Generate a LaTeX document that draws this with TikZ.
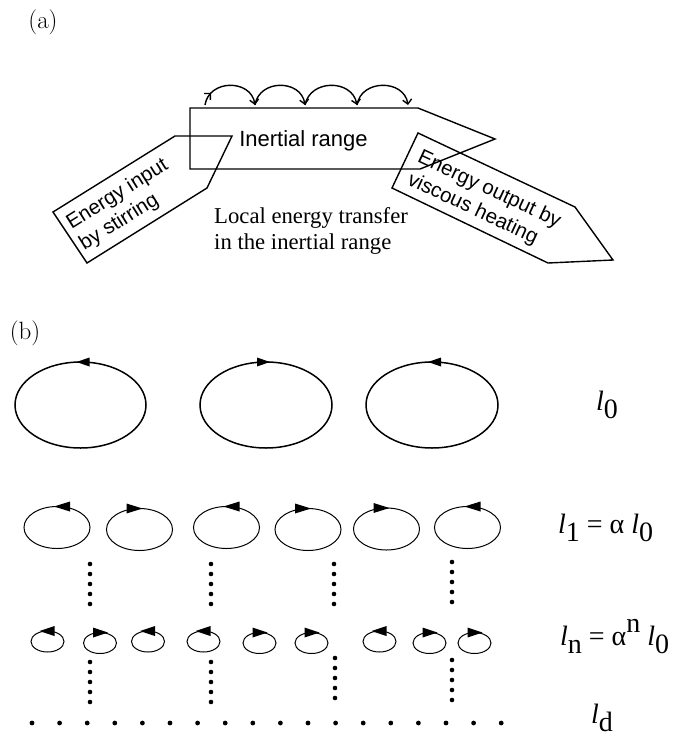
\documentclass[tikz,border=0pt]{standalone}
\usepackage{fontspec}
\newfontfamily\arialf{Liberation Sans}
\newfontfamily\timesf{Liberation Serif}
\usetikzlibrary{arrows.meta,decorations.markings}
\newcommand{\eddy}[9]{%
  \draw[line width=#9] (#1,#2) ellipse [x radius=#3, y radius=#4];
  \fill ({#1+(#5)*(#6)},{#2-#4}) -- ({#1-(#5)*(#7)},{#2-#4-#8}) -- ({#1-(#5)*(#7)},{#2-#4+#8}) -- cycle;
}
\newcommand{\lsb}[1]{\raisebox{-0.3em}{#1}}
\newcommand{\lsp}[1]{\raisebox{0.45em}{#1}}
\tikzset{
  boxline/.style={line width=1.4pt, line join=miter},
  barbend/.style={line width=1.4pt, -{Straight Barb[length=4.5pt,width=9pt]}},
  startbarb/.style={postaction={decorate}, decoration={markings, mark=at position 0.2 with {\arrow{Straight Barb[length=4.5pt,width=9pt]}}}},
  arialtxt/.style={font=\arialf\fontsize{22}{26}\selectfont, inner sep=0pt},
  rottxt/.style={font=\arialf\fontsize{20.5}{24.5}\selectfont, inner sep=0pt, align=left},
  timestxt/.style={font=\timesf\fontsize{22.7}{26}\selectfont, inner sep=0pt},
  lbltxt/.style={font=\timesf\fontsize{28}{30}\selectfont, inner sep=0pt},
  parttxt/.style={font=\fontsize{25}{28}\selectfont, inner sep=0pt},
}
\begin{document}
\begin{tikzpicture}[x=1pt,y=-1pt]
\useasboundingbox (0,0) rectangle (675,740);
% ---------- (a) ----------
\node[parttxt] (pa) at (43,22) {(a)};
% arcs above box
\draw[barbend,startbarb] (205,105) .. controls (209,79) and (251,79) .. (255,105);
\draw[barbend] (255,105) .. controls (259,79) and (301,79) .. (305,105);
\draw[barbend] (305,105) .. controls (310,79) and (352,79) .. (357,105);
\draw[barbend] (357,105) .. controls (361,79) and (404,79) .. (408,105);
% main box
\draw[boxline] (190,108) -- (418,108) -- (495,139) -- (420,169) -- (190,169) -- cycle;
\node[arialtxt, anchor=base] (inr) at (303.5,146.7) {Inertial range};
% input arrow
\draw[boxline] (175,136) -- (232,136) -- (207,188) -- (87,263) -- (53,212) -- cycle;
\node[rottxt, rotate=32] (ein) at (124,205) {Energy input\\by stirring};
% output arrow
\draw[boxline] (418,133) -- (575,207) -- (613,260) -- (548,263) -- (392,188) -- cycle;
\node[rottxt, rotate=-25] (eout) at (484,201) {Energy output by\\viscous heating};
% local transfer text
\node[timestxt, align=left, anchor=west] (loc) at (214,231) {Local energy transfer\\in the inertial range};
% ---------- (b) ----------
\node[parttxt] (pb) at (25,333) {(b)};
% big eddies
\eddy{80.5}{405}{65.5}{43}{-1}{4}{9}{4.5}{1.5pt}
\eddy{266}{405}{66}{43}{1}{4}{9}{4.5}{1.5pt}
\eddy{432}{405}{66}{43}{-1}{4}{9}{4.5}{1.5pt}
\node[lbltxt] (l0) at (607,405) {\itshape l\upshape\lsb{0}};
% row 1
\eddy{57}{527.5}{33}{21}{-1}{3}{13}{5}{1pt}
\eddy{139.5}{529.5}{33}{21}{1}{3}{13}{5}{1pt}
\eddy{226.5}{527.5}{33}{21}{-1}{3}{13}{5}{1pt}
\eddy{308}{529.5}{33}{21}{1}{3}{13}{5}{1pt}
\eddy{386.5}{529}{33}{21}{1}{3}{13}{5}{1pt}
\eddy{467.5}{527.5}{33}{21}{-1}{3}{13}{5}{1pt}
\node[lbltxt, anchor=west] (l1) at (558,528) {{\itshape l}\lsb{1} = α {\itshape l}\lsb{0}};
% row n
\eddy{47.5}{641.5}{16.5}{10.5}{-1}{8}{7}{5}{1pt}
\eddy{100}{643}{16.5}{10.5}{1}{8}{7}{5}{1pt}
\eddy{148}{641.5}{16.5}{10.5}{-1}{8}{7}{5}{1pt}
\eddy{203.5}{641.5}{16.5}{10.5}{-1}{8}{7}{5}{1pt}
\eddy{259.5}{643}{16.5}{10.5}{1}{8}{7}{5}{1pt}
\eddy{311.5}{643}{16.5}{10.5}{1}{8}{7}{5}{1pt}
\eddy{379.5}{641.5}{16.5}{10.5}{-1}{8}{7}{5}{1pt}
\eddy{429.5}{643}{16.5}{10.5}{1}{8}{7}{5}{1pt}
\eddy{474.5}{643}{16.5}{10.5}{1}{8}{7}{5}{1pt}
\node[lbltxt, anchor=west] (ln) at (560,637) {{\itshape l}\lsb{n} = α\lsp{n} {\itshape l}\lsb{0}};
% dotted columns
\foreach \x/\s in {90/564,211/564,334/564,452/562}
  \foreach \k in {0,...,4} \fill (\x,{\s+10*\k}) circle (2.3);
\foreach \x/\s in {90/662,211/662,335/658,452/660}
  \foreach \k in {0,...,4} \fill (\x,{\s+10*\k}) circle (2.3);
% bottom row
\foreach \k in {0,...,17} \fill ({32+27.6*\k},723) circle (2.4);
\node[lbltxt] (ld) at (602,718) {\itshape l\upshape\lsb{d}};
\end{tikzpicture}
\end{document}
